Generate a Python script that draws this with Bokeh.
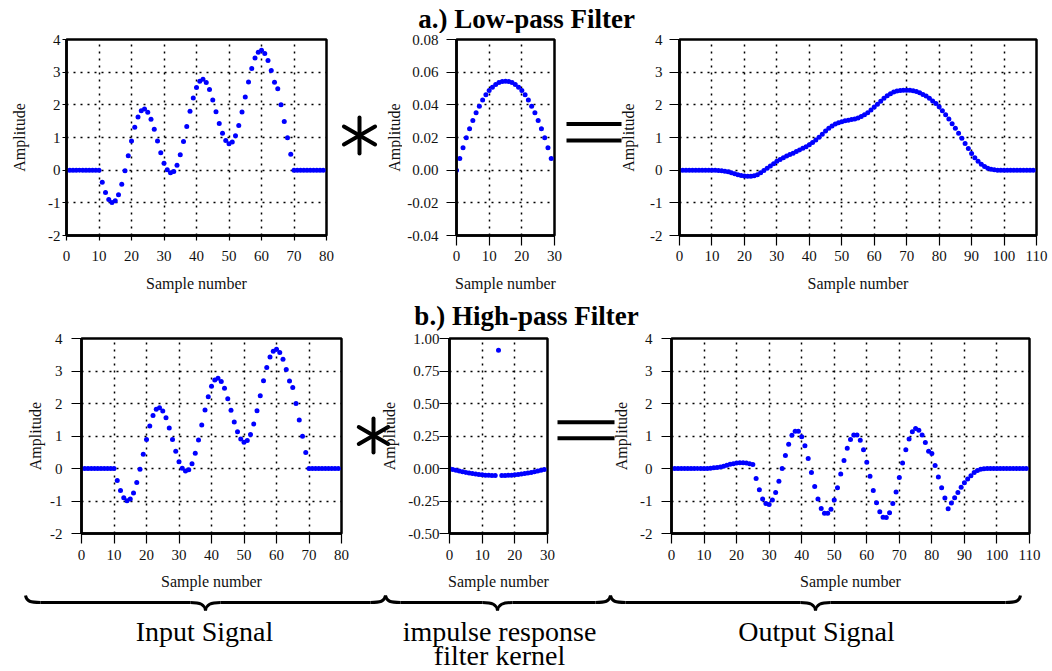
import math
from bokeh.plotting import figure
from bokeh.layouts import column, row
from bokeh.models import Range1d, FixedTicker
from bokeh.embed import file_html
from bokeh.resources import INLINE
from bokeh.core.properties import value

# ---------------- data ----------------
input_x = list(range(80))
input_signal = [0, 0, 0, 0, 0, 0, 0, 0, 0, 0, 0,
                -0.37, -0.68, -0.90, -0.99, -0.94, -0.75, -0.43, -0.02, 0.44, 0.89,
                1.31, 1.63, 1.82, 1.87, 1.77, 1.56, 1.25, 0.89, 0.53, 0.21,
                0.01, -0.08, -0.04, 0.15, 0.47, 0.88, 1.34, 1.80, 2.21, 2.53,
                2.72, 2.78, 2.68, 2.47, 2.15, 1.79, 1.43, 1.13, 0.91, 0.81,
                0.86, 1.05, 1.37, 1.78, 2.24, 2.70, 3.11, 3.43, 3.61, 3.67,
                3.57, 3.36, 3.05, 2.69, 2.49, 2.00, 1.49, 0.99, 0.49,
                0, 0, 0, 0, 0, 0, 0, 0, 0, 0]

kernel_x = list(range(30))
lp_kernel = [0.0, 0.0071, 0.0137, 0.0198, 0.0253, 0.0304, 0.0351, 0.0392, 0.0429, 0.0461,
             0.0488, 0.0508, 0.0524, 0.0537, 0.0543, 0.0545, 0.0543, 0.0537, 0.0524, 0.0508,
             0.0488, 0.0461, 0.0429, 0.0392, 0.0351, 0.0304, 0.0253, 0.0198, 0.0137, 0.0071]
hp_kernel = [0.0, -0.007, -0.014, -0.020, -0.025, -0.030, -0.035, -0.039, -0.043, -0.046,
             -0.049, -0.051, -0.052, -0.054, -0.054, 0.910, -0.054, -0.054, -0.052, -0.051,
             -0.049, -0.046, -0.043, -0.039, -0.035, -0.030, -0.025, -0.020, -0.014, -0.007]

output_x = list(range(110))
lp_output = [0, 0, 0, 0, 0, 0, 0, 0, 0, 0, 0, 0,
             -0.01, -0.02, -0.03, -0.05, -0.08, -0.11, -0.14, -0.16, -0.18, -0.19,
             -0.19, -0.17, -0.14, -0.08, -0.01, 0.06, 0.13, 0.20, 0.27, 0.33,
             0.38, 0.43, 0.48, 0.52, 0.57, 0.62, 0.67, 0.72, 0.78, 0.85,
             0.92, 1.01, 1.10, 1.20, 1.28, 1.35, 1.41, 1.45, 1.48, 1.51,
             1.53, 1.55, 1.57, 1.60, 1.64, 1.70, 1.76, 1.84, 1.93, 2.02,
             2.11, 2.20, 2.28, 2.34, 2.39, 2.42, 2.44, 2.45, 2.45, 2.45,
             2.43, 2.41, 2.37, 2.32, 2.27, 2.20, 2.12, 2.04, 1.94, 1.82,
             1.70, 1.57, 1.42, 1.28, 1.13, 0.98, 0.82, 0.66, 0.51, 0.38,
             0.27, 0.18, 0.11, 0.06, 0.03, 0.01,
             0, 0, 0, 0, 0, 0, 0, 0, 0, 0, 0, 0]
hp_output = [0, 0, 0, 0, 0, 0, 0, 0, 0, 0, 0, 0,
             0.01, 0.02, 0.03, 0.05, 0.07, 0.10, 0.13, 0.15, 0.17, 0.18,
             0.18, 0.17, 0.15, 0.12, -0.31, -0.65, -0.94, -1.08, -1.11, -0.97,
             -0.74, -0.39, 0.00, 0.40, 0.75, 1.02, 1.15, 1.15, 0.98, 0.70,
             0.31, -0.12, -0.55, -0.94, -1.23, -1.38, -1.38, -1.25, -0.97, -0.59,
             -0.17, 0.25, 0.62, 0.89, 1.03, 1.03, 0.87, 0.58, 0.19, -0.24,
             -0.68, -1.05, -1.33, -1.50, -1.51, -1.36, -1.08, -0.72, -0.28, 0.17,
             0.58, 0.91, 1.13, 1.23, 1.18, 1.03, 0.80, 0.53, 0.46, 0.09,
             -0.26, -0.59, -0.91, -1.24, -1.06, -0.90, -0.74, -0.58, -0.44, -0.32,
             -0.22, -0.12, -0.06, -0.02, -0.01,
             0, 0, 0, 0, 0, 0, 0, 0, 0, 0, 0, 0, 0]

x_ticks_input = [0, 10, 20, 30, 40, 50, 60, 70, 80]
x_ticks_kernel = [0, 10, 20, 30]
x_ticks_output = [0, 10, 20, 30, 40, 50, 60, 70, 80, 90, 100, 110]
y_ticks_signal = [-2, -1, 0, 1, 2, 3, 4]
y_labels_signal = ["-2", "-1", "0", "1", "2", "3", "4"]
y_ticks_lp_kernel = [-0.04, -0.02, 0.0, 0.02, 0.04, 0.06, 0.08]
y_labels_lp_kernel = ["-0.04", "-0.02", "0.00", "0.02", "0.04", "0.06", "0.08"]
y_ticks_hp_kernel = [-0.5, -0.25, 0.0, 0.25, 0.5, 0.75, 1.0]
y_labels_hp_kernel = ["-0.50", "-0.25", "0.00", "0.25", "0.50", "0.75", "1.00"]

title_a = "a.) Low-pass Filter"
title_b = "b.) High-pass Filter"
x_label = "Sample number"
y_label = "Amplitude"
bottom_labels = ["Input Signal", "impulse response", "filter kernel", "Output Signal"]

# ---------------- styling ----------------
FONT = "Liberation Serif"
BLUE = "#0000ff"
INK = "#111111"
MID = 0.335  # distance (in em) from the alphabetic baseline to the middle of the text box


def make_plot(xs, ys, xr, yr, xt, yt, ylabels, W, H, bl, br, bt, bb,
              ytick_out, ystand, xtick_out, xstand, xlab, ylab=None):
    p = figure(width=W, height=H, x_range=Range1d(*xr), y_range=Range1d(*yr),
               output_backend="svg", toolbar_location=None,
               min_border_left=bl, min_border_right=br,
               min_border_top=bt, min_border_bottom=bb,
               background_fill_color="white", border_fill_color="white",
               outline_line_color="black", outline_line_width=2.5)
    p.xaxis.ticker = FixedTicker(ticks=xt)
    p.yaxis.ticker = FixedTicker(ticks=yt)
    p.xgrid.ticker = FixedTicker(ticks=xt)
    p.ygrid.ticker = FixedTicker(ticks=yt)
    p.yaxis.major_label_overrides = dict(zip(yt, ylabels))
    p.xaxis.major_label_overrides = {t: str(t) for t in xt}
    p.grid.grid_line_color = "black"
    p.grid.grid_line_dash = "2 5"
    p.grid.grid_line_width = 1.5
    p.grid.grid_line_alpha = 1.0
    for ax in (p.xaxis, p.yaxis):
        ax.axis_line_width = 2.5
        ax.axis_line_color = "black"
        ax.major_tick_in = 0
        ax.minor_tick_out = 0
        ax.minor_tick_line_color = None
        ax.major_tick_line_color = "black"
        ax.major_tick_line_width = 1.2
        ax.major_label_text_font = FONT
        ax.major_label_text_font_size = "15px"
        ax.major_label_text_color = INK
        ax.axis_label_text_font = FONT
        ax.axis_label_text_font_size = "16px"
        ax.axis_label_text_font_style = "normal"
        ax.axis_label_text_color = INK
    p.yaxis.major_tick_out = ytick_out
    p.yaxis.major_label_standoff = ystand
    p.xaxis.major_tick_out = xtick_out
    p.xaxis.major_label_standoff = xstand
    p.xaxis.axis_label_standoff = xlab
    p.xaxis.axis_label = x_label
    if ylab is not None:
        p.yaxis.axis_label = y_label
        p.yaxis.axis_label_standoff = ylab
    p.scatter(x=xs, y=ys, size=5, fill_color=BLUE, line_color=None)
    return p


def band(x0, x1, fy0, fy1, bt=0, bb=0):
    # blank drawing area whose data coordinates equal page pixels inside its frame
    p = figure(width=x1 - x0, height=(fy1 - fy0) + bt + bb,
               x_range=Range1d(x0, x1), y_range=Range1d(fy1, fy0),
               output_backend="svg", toolbar_location=None,
               x_axis_location=None, y_axis_location=None,
               min_border_left=0, min_border_right=0,
               min_border_top=bt, min_border_bottom=bb,
               outline_line_color=None, background_fill_color="white",
               border_fill_color="white")
    p.grid.visible = False
    return p


def put_text(p, xs, baselines, texts, size, bold=False):
    p.text(x=xs, y=[b - MID * size for b in baselines], text=texts,
           text_font=value(FONT), text_font_size=f"{size}px",
           text_font_style="bold" if bold else "normal",
           text_align="center", text_baseline="middle", text_color="black")


def vlabel(p, cx, cy):
    p.text(x=[cx], y=[cy], text=[y_label], angle=math.pi / 2,
           text_font=value(FONT), text_font_size="16px", text_align="center",
           text_baseline="middle", text_color=INK)


def asterisk(p, cx, cy, r):
    xs0, ys0, xs1, ys1 = [], [], [], []
    for dx, dy in ((0.0, 1.0), (0.866, 0.5), (0.866, -0.5)):
        xs0.append(cx - r * dx); ys0.append(cy - r * dy)
        xs1.append(cx + r * dx); ys1.append(cy + r * dy)
    p.segment(x0=xs0, y0=ys0, x1=xs1, y1=ys1, line_color="black",
              line_width=4, line_cap="round")


def equals(p, xa, xb, ya, yb):
    p.segment(x0=[xa, xa], y0=[ya, yb], x1=[xb, xb], y1=[ya, yb],
              line_color="black", line_width=4)


def brace(p, xa, xm, xb, ytop=595, yflat=602, ytip=610, c=15):
    p.bezier(x0=[xa, xm - c, xm, xb - c],
             y0=[ytop, yflat, ytip, yflat],
             x1=[xa + c, xm, xm + c, xb],
             y1=[yflat, ytip, yflat, ytop],
             cx0=[xa + 1, xm - 5, xm + 1, xb - 5],
             cy0=[yflat - 1, yflat, yflat + 2, yflat],
             cx1=[xa + 5, xm - 1, xm + 5, xb - 1],
             cy1=[yflat, yflat + 2, yflat, yflat - 1],
             line_color="black", line_width=3)
    p.segment(x0=[xa + c, xm + c], y0=[yflat, yflat], x1=[xm - c, xb - c], y1=[yflat, yflat],
              line_color="black", line_width=3)


# ---------------- top title ----------------
ta = band(0, 1052, 0, 33)
put_text(ta, [526], [28], [title_a], 27, bold=True)

# ---------------- row a : frames span y 39..235 ----------------
f1 = make_plot(input_x, input_signal, (0, 80), (-2, 4), x_ticks_input, y_ticks_signal, y_labels_signal,
               338, 263, 66, 12, 6, 61, 4, 2, 5, 10, 11, ylab=17)
s1 = band(338, 402, 39, 235, 6, 61)
asterisk(s1, 359, 135, 18)
vlabel(s1, 394, 137)
f2 = make_plot(kernel_x, lp_kernel, (0, 30), (-0.04, 0.08), x_ticks_kernel, y_ticks_lp_kernel,
               y_labels_lp_kernel, 161, 263, 54, 9, 6, 61, 10, 8, 10, 5, 11)
e1 = band(563, 640, 39, 235, 6, 61)
equals(e1, 566, 621, 123.5, 140)
vlabel(e1, 628, 137)
f3 = make_plot(output_x, lp_output, (0, 110), (-2, 4), x_ticks_output, y_ticks_signal, y_labels_signal,
               410, 263, 39, 14, 6, 61, 10, 7, 10, 5, 11)

# ---------------- middle title ----------------
tb = band(0, 1052, 296, 332)
put_text(tb, [526], [325], [title_b], 27, bold=True)

# ---------------- row b : frames span y 338..533 ----------------
f4 = make_plot(input_x, input_signal, (0, 80), (-2, 4), x_ticks_input, y_ticks_signal, y_labels_signal,
               352, 261, 81, 11, 6, 60, 10, 9, 10, 6, 10, ylab=3)
s2 = band(352, 402, 338, 533, 6, 60)
asterisk(s2, 373, 435, 17)
vlabel(s2, 389, 435.5)
f5 = make_plot(kernel_x, hp_kernel, (0, 30), (-0.5, 1.0), x_ticks_kernel, y_ticks_hp_kernel,
               y_labels_hp_kernel, 154, 261, 47, 9, 6, 60, 10, 0, 10, 6, 10)
e2 = band(556, 635, 338, 533, 6, 60)
equals(e2, 557, 614, 421.7, 437.7)
vlabel(e2, 621, 435.5)
f6 = make_plot(output_x, hp_output, (0, 110), (-2, 4), x_ticks_output, y_ticks_signal, y_labels_signal,
               413, 261, 36, 19, 6, 60, 10, 9, 10, 6, 10)

# ---------------- braces and captions ----------------
bt = band(0, 1052, 593, 671)
brace(bt, 25, 205, 385)
brace(bt, 385, 497, 610)
brace(bt, 610, 815, 1020)
put_text(bt, [204, 499, 499, 816], [640, 640, 664, 640], bottom_labels, 28)

layout = column(ta, row(f1, s1, f2, e1, f3, spacing=0), tb,
                row(f4, s2, f5, e2, f6, spacing=0), bt, spacing=0)

open("out.html", "w").write(file_html(layout, INLINE))
